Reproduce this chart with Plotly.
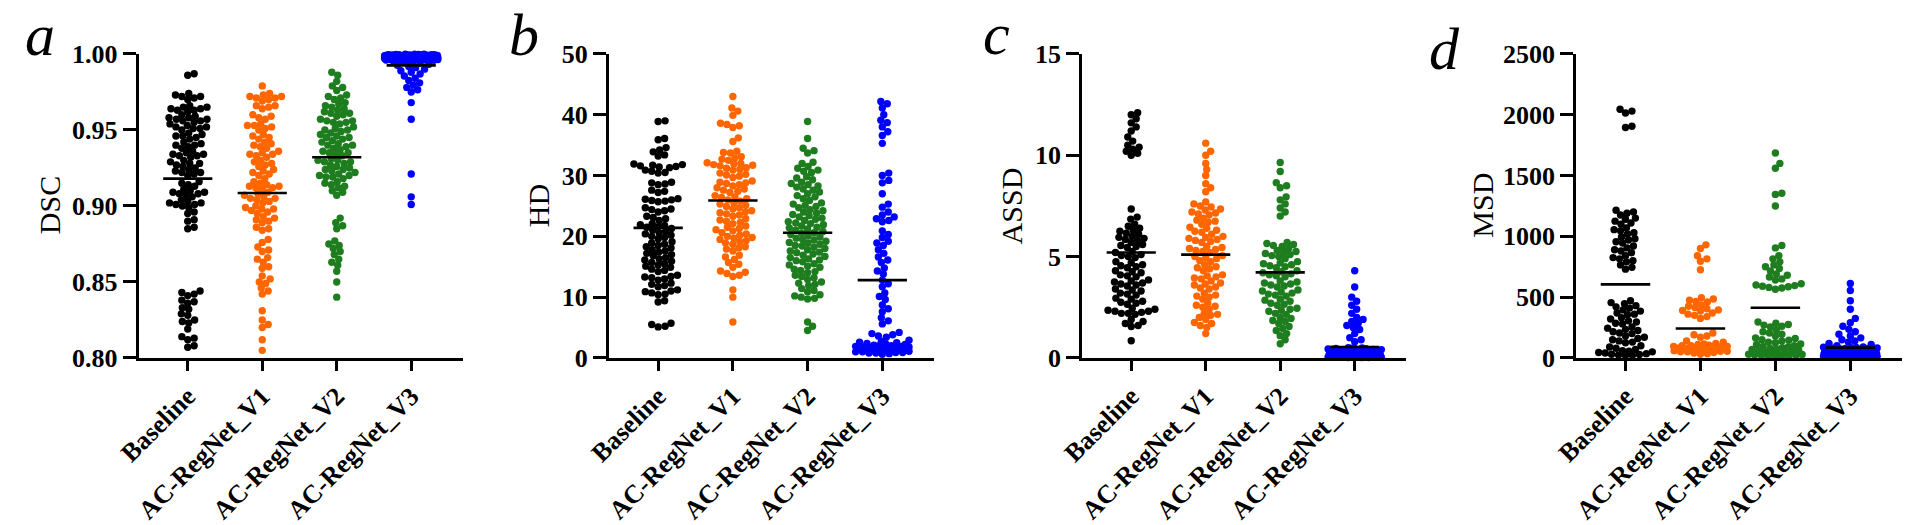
import numpy as np
import plotly.graph_objects as go

groups = ["Baseline", "AC-RegNet_V1", "AC-RegNet_V2", "AC-RegNet_V3"]
colors = ["#000000", "#FF6600", "#1E7D1E", "#0000FF"]

# ---- DSC (panel a) ----
dsc_baseline = [0.987, 0.986, 0.974, 0.973, 0.972, 0.971, 0.970, 0.972,
                0.966, 0.965, 0.964, 0.963, 0.965, 0.962, 0.964, 0.963,
                0.960, 0.959, 0.958, 0.957, 0.956, 0.958, 0.957, 0.956, 0.955,
                0.954, 0.953, 0.952, 0.951, 0.950, 0.952, 0.951,
                0.948, 0.947, 0.946, 0.945, 0.944, 0.946,
                0.942, 0.941, 0.940, 0.939, 0.938, 0.940,
                0.936, 0.935, 0.934, 0.933, 0.932, 0.934, 0.933,
                0.930, 0.929, 0.928, 0.927, 0.926, 0.925, 0.928,
                0.924, 0.923, 0.922, 0.921, 0.920, 0.922,
                0.916, 0.915, 0.914, 0.913,
                0.911, 0.910, 0.909, 0.908, 0.907, 0.906, 0.909, 0.908,
                0.904, 0.903, 0.902, 0.901, 0.900, 0.899, 0.902, 0.901,
                0.896, 0.895, 0.891, 0.890, 0.886, 0.885,
                0.844, 0.843, 0.842, 0.841, 0.838, 0.837, 0.836, 0.833, 0.832,
                0.829, 0.828, 0.825, 0.824, 0.823, 0.819, 0.814, 0.813, 0.812,
                0.808, 0.807]
dsc_v1 = [0.979, 0.974, 0.973, 0.972, 0.971, 0.970, 0.972, 0.971, 0.969,
          0.966, 0.965, 0.964, 0.966, 0.960, 0.958, 0.957, 0.959,
          0.954, 0.953, 0.952, 0.951, 0.953, 0.950, 0.947, 0.946, 0.945, 0.944,
          0.942, 0.941, 0.940, 0.939, 0.938, 0.936, 0.935, 0.934, 0.933, 0.932, 0.934,
          0.930, 0.929, 0.928, 0.927, 0.926, 0.924, 0.923, 0.922, 0.921, 0.920, 0.918,
          0.916, 0.915, 0.914, 0.913, 0.912, 0.911, 0.913, 0.912,
          0.909, 0.908, 0.907, 0.906, 0.905, 0.904, 0.903, 0.902, 0.905,
          0.900, 0.899, 0.898, 0.897, 0.896, 0.895, 0.898,
          0.893, 0.892, 0.891, 0.890, 0.889, 0.886, 0.885, 0.884,
          0.878, 0.876, 0.873, 0.871, 0.870, 0.866, 0.865, 0.863, 0.860, 0.859,
          0.854, 0.852, 0.850, 0.849, 0.846, 0.844, 0.842,
          0.831, 0.825, 0.822, 0.820, 0.812, 0.805]
dsc_v2 = [0.988, 0.986, 0.982, 0.979, 0.978, 0.976, 0.973, 0.972, 0.971, 0.970,
          0.968, 0.967, 0.966, 0.965, 0.964, 0.963, 0.962, 0.961, 0.960, 0.959, 0.961,
          0.957, 0.956, 0.955, 0.954, 0.956, 0.955, 0.952, 0.951, 0.950, 0.949, 0.948, 0.950,
          0.947, 0.946, 0.945, 0.944, 0.943, 0.945, 0.942, 0.941, 0.940, 0.939, 0.938, 0.940,
          0.937, 0.936, 0.935, 0.934, 0.933, 0.935, 0.931, 0.930, 0.929, 0.928, 0.927, 0.930, 0.929,
          0.926, 0.925, 0.924, 0.923, 0.922, 0.924, 0.921, 0.920, 0.919, 0.918, 0.920, 0.919,
          0.916, 0.915, 0.914, 0.913, 0.912, 0.910, 0.909, 0.907,
          0.892, 0.889, 0.887, 0.885, 0.877, 0.875, 0.874, 0.872, 0.870, 0.868,
          0.865, 0.863, 0.861, 0.857, 0.850, 0.840]
dsc_v3 = [0.9999, 0.9998, 0.9998, 0.9997, 0.9997, 0.9996, 0.9996, 0.9995, 0.9995, 0.9994,
          0.9994, 0.9993, 0.9993, 0.9992, 0.9992, 0.9991, 0.9991, 0.9990, 0.9990, 0.9989,
          0.9989, 0.9988, 0.9988, 0.9987, 0.9987, 0.9986, 0.9986, 0.9985, 0.9985, 0.9984,
          0.9984, 0.9983, 0.9983, 0.9982, 0.9982, 0.9981, 0.9981, 0.9980, 0.9980, 0.9979,
          0.9979, 0.9978, 0.9978, 0.9977, 0.9977, 0.9976, 0.9976, 0.9975, 0.9975, 0.9974,
          0.9974, 0.9973, 0.9973, 0.9972, 0.9972, 0.9971, 0.9971, 0.9970, 0.9970, 0.9969,
          0.9969, 0.9968, 0.9968, 0.9967, 0.9967, 0.9966, 0.9966, 0.9965, 0.9965, 0.9964,
          0.9964, 0.9963, 0.9963, 0.9962, 0.9962, 0.9961, 0.9961, 0.9960, 0.9960, 0.9959,
          0.9955, 0.9950, 0.9945, 0.9940, 0.9932, 0.9925, 0.9918, 0.9910, 0.9900, 0.9890,
          0.9880, 0.9868, 0.9855, 0.9840, 0.9825, 0.9810, 0.9795, 0.9780, 0.9765, 0.9750,
          0.968, 0.957, 0.921, 0.906, 0.901]

# ---- HD (panel b) ----
hd_baseline = [39.0, 38.9, 36.1, 35.9, 34.6, 34.2, 33.9, 33.4, 33.2,
               31.9, 31.8, 31.7, 31.6, 31.5, 31.4, 31.3, 30.9, 30.7, 30.5, 30.4,
               28.9, 28.8, 28.6, 28.5, 27.6, 27.4, 27.2, 26.2, 26.1, 26.0, 25.9, 25.8, 25.7,
               24.7, 24.5, 24.4, 24.2, 24.0, 23.3, 23.1, 22.9, 22.6,
               22.1, 21.9, 21.8, 21.6, 21.5, 21.3, 21.0, 20.8, 20.6, 20.4, 20.2, 20.0, 19.8, 19.6,
               19.1, 18.9, 18.7, 18.5, 18.3, 18.1, 17.8, 17.6, 17.4, 17.2, 17.0, 16.8,
               16.5, 16.3, 16.1, 15.9, 15.7, 15.5, 15.3, 15.1, 14.9, 14.6, 14.4, 14.2,
               13.6, 13.4, 13.3, 13.2, 13.0, 12.8, 12.3, 12.1, 11.9, 11.7,
               11.2, 11.0, 10.9, 10.7, 10.5, 10.4, 9.4, 9.2, 5.7, 5.5, 5.2, 5.1]
hd_v1 = [43.0, 41.1, 40.6, 39.9, 38.6, 38.4, 38.2, 37.9, 36.2, 35.6,
         34.0, 33.8, 33.7, 33.1, 32.9, 32.7, 32.5,
         32.1, 32.0, 31.9, 31.8, 31.7, 31.6, 31.3, 31.2, 31.0, 30.9,
         30.4, 30.2, 30.1, 29.9, 29.7, 29.1, 28.9, 28.8, 28.7, 28.5, 28.3,
         28.0, 27.8, 27.6, 27.4, 27.2, 26.7, 26.5, 26.4, 26.2, 26.0, 25.8,
         25.5, 25.3, 25.1, 24.9, 24.7, 24.5, 24.2, 24.0, 23.9, 23.7, 23.5, 23.3,
         22.9, 22.7, 22.5, 22.3, 22.1, 21.7, 21.5, 21.3, 21.1, 20.9,
         20.6, 20.4, 20.2, 20.0, 19.8, 19.7, 19.5, 19.3, 19.1, 18.9, 18.7,
         18.3, 18.1, 17.9, 17.6, 16.9, 16.6, 16.2, 15.7, 15.4, 14.9,
         14.3, 14.1, 13.9, 13.6, 13.4, 11.2, 10.0, 5.9]
hd_v2 = [38.9, 36.1, 34.5, 34.1, 33.7, 32.2, 32.0, 31.5, 31.2, 30.9, 30.7, 30.5,
         29.8, 29.6, 29.3, 28.9, 28.7, 28.5, 28.3, 28.1,
         27.8, 27.6, 27.3, 27.0, 26.7, 26.5, 26.2, 25.9,
         25.5, 25.3, 25.1, 24.9, 24.7, 24.4, 24.2, 24.0, 23.8, 23.6,
         23.4, 23.2, 23.0, 22.8, 22.6, 22.4, 22.2, 22.1, 21.9, 21.7, 21.5,
         21.4, 21.2, 21.0, 20.8, 20.6, 20.5, 20.3, 20.1, 19.9, 19.7, 19.5, 19.4,
         19.2, 19.0, 18.9, 18.7, 18.5, 18.4, 18.2, 18.0, 17.8, 17.6, 17.4, 17.3, 17.1,
         16.9, 16.7, 16.5, 16.3, 16.1, 16.0, 15.8, 15.5, 15.3, 15.1, 14.9,
         14.6, 14.4, 14.2, 14.0, 13.6, 13.4, 13.2, 12.9, 12.5, 12.3, 12.1, 11.9,
         11.4, 11.1, 10.9, 10.4, 10.2, 10.0, 9.8, 9.7, 5.9, 5.2, 4.5]
hd_v3 = [42.2, 41.8, 41.1, 40.0, 39.1, 38.7, 38.0, 37.2, 36.6, 35.3,
         30.4, 30.0, 29.2, 28.8, 27.0, 25.3, 24.8, 24.0, 23.5, 23.2, 22.9, 22.6, 22.4,
         20.9, 20.3, 19.8, 19.2, 18.9, 18.5, 17.8, 17.2, 16.6, 16.1, 15.7,
         14.8, 14.3, 13.8, 12.8, 12.2, 11.7, 10.7, 10.1, 9.6, 8.7, 8.1, 7.6,
         6.6, 6.1, 5.6, 4.2, 4.0, 3.8, 3.6, 3.4,
         2.9, 2.7, 2.6, 2.5, 2.4, 2.3, 2.2, 2.1, 2.0, 2.0, 1.9, 1.9, 1.8, 1.8,
         1.7, 1.7, 1.6, 1.6, 1.5, 1.5, 1.4, 1.4, 1.3, 1.3, 1.2, 1.2, 1.1, 1.1,
         1.0, 1.0, 0.9, 0.9, 0.8, 0.8, 0.7, 0.6]

# ---- ASSD (panel c) ----
assd_baseline = [12.1, 12.0, 11.8, 11.6, 11.4, 11.2, 10.9, 10.7, 10.5, 10.4, 10.3, 10.2, 10.1, 10.0,
                 7.35, 6.95, 6.85, 6.6, 6.5, 6.4, 6.3, 6.25, 6.15, 6.1, 6.0, 5.95, 5.9, 5.85, 5.8,
                 5.7, 5.6, 5.55, 5.5, 5.45, 5.25, 5.2, 5.1, 5.05, 5.0, 4.95,
                 4.75, 4.7, 4.6, 4.55, 4.5, 4.45, 4.3, 4.25, 4.2, 4.1, 4.05, 4.0,
                 3.85, 3.8, 3.75, 3.7, 3.65, 3.6, 3.55, 3.4, 3.35, 3.3, 3.2, 3.15, 3.1,
                 2.95, 2.9, 2.8, 2.75, 2.7, 2.65,
                 2.45, 2.4, 2.35, 2.3, 2.3, 2.25, 2.2, 2.2, 2.15,
                 1.9, 1.8, 1.7, 1.6, 1.55, 0.85]
assd_v1 = [10.6, 10.2, 10.0, 9.6, 9.3, 9.0, 8.6, 8.4, 8.2,
           7.7, 7.6, 7.5, 7.45, 7.35, 7.3, 7.2, 7.15, 7.1, 7.05,
           6.9, 6.8, 6.75, 6.7, 6.6, 6.45, 6.4, 6.3, 6.25, 6.2, 6.1,
           6.0, 5.95, 5.9, 5.85, 5.8, 5.75, 5.7, 5.5, 5.45, 5.4, 5.35, 5.3, 5.25, 5.2,
           5.05, 5.0, 4.95, 4.9, 4.8, 4.75, 4.6, 4.5, 4.45, 4.4, 4.3,
           4.1, 4.05, 4.0, 3.95, 3.9, 3.8, 3.7, 3.65, 3.6, 3.5, 3.45, 3.4,
           3.2, 3.1, 3.05, 3.0, 2.9, 2.7, 2.6, 2.55, 2.5, 2.4,
           2.2, 2.15, 2.1, 2.0, 1.9, 1.75, 1.7, 1.6, 1.5, 1.2]
assd_v2 = [9.65, 9.2, 8.65, 8.5, 8.4, 7.95, 7.8, 7.6, 7.4, 7.2, 7.0,
           5.7, 5.65, 5.6, 5.55, 5.5, 5.4, 5.3, 5.25, 5.2, 5.15, 5.1, 5.05, 5.0, 4.9,
           4.75, 4.7, 4.65, 4.6, 4.55, 4.5, 4.45, 4.3, 4.25, 4.2, 4.15, 4.1, 4.05, 4.0,
           3.8, 3.75, 3.7, 3.65, 3.6, 3.55, 3.5, 3.35, 3.3, 3.25, 3.2, 3.15, 3.1, 3.05,
           2.9, 2.85, 2.8, 2.7, 2.65, 2.6, 2.45, 2.4, 2.35, 2.3, 2.2, 2.15,
           2.0, 1.95, 1.85, 1.8, 1.7, 1.55, 1.45, 1.35, 1.2, 1.1, 0.9, 0.7]
assd_v3 = [4.3, 3.5, 3.0, 2.8, 2.6, 2.4, 2.2, 2.0, 1.9, 1.8, 1.7, 1.6, 1.5, 1.4, 1.2, 1.0, 0.9, 0.8,
           0.50, 0.49, 0.48, 0.47, 0.46, 0.45, 0.44, 0.43, 0.42, 0.41, 0.40, 0.39, 0.38, 0.37,
           0.36, 0.35, 0.34, 0.33, 0.32, 0.31, 0.30, 0.30, 0.29, 0.28, 0.27, 0.26, 0.25, 0.25,
           0.24, 0.23, 0.22, 0.21, 0.20, 0.20, 0.19, 0.18, 0.17, 0.16, 0.15, 0.15, 0.14, 0.13,
           0.12, 0.12, 0.11, 0.10, 0.10, 0.09, 0.09, 0.08, 0.08, 0.07, 0.07, 0.06, 0.06, 0.05,
           0.05, 0.05, 0.04, 0.04, 0.04, 0.03, 0.03, 0.03, 0.02, 0.02, 0.02, 0.02]

# ---- MSD (panel d) ----
msd_baseline = [2045, 2030, 2015, 1905, 1895, 1215, 1200, 1190, 1175,
                1150, 1140, 1125, 1110, 1100, 1070, 1055, 1045, 1030, 1020,
                995, 980, 970, 955, 945, 920, 905, 890, 880, 865,
                840, 825, 815, 800, 790, 765, 745, 730,
                470, 455, 445, 430, 420, 410, 395, 385, 370, 360, 355,
                330, 320, 305, 295, 285, 280, 255, 245, 235, 225, 215, 205, 200,
                180, 170, 160, 150, 140, 130, 125,
                100, 90, 80, 70, 60, 55, 50, 45, 40, 35, 30, 28, 25, 22, 20]
msd_v1 = [930, 900, 840, 815, 795, 725, 495, 485, 475, 465, 460,
          435, 425, 415, 405, 395, 390, 385, 370, 360, 350, 340, 325,
          205, 190, 180, 170, 140, 130, 120, 115, 110, 105, 100, 100, 95, 95,
          90, 90, 85, 85, 80, 80, 80, 75, 75, 70, 70, 65, 65, 60, 60, 55, 55,
          50, 50, 45, 40, 35, 30]
msd_v2 = [1685, 1600, 1560, 1355, 1345, 1250, 925, 905, 840, 815, 790,
          765, 750, 735, 715, 690, 680, 665, 650, 640,
          610, 600, 595, 590, 585, 580, 575, 565,
          295, 285, 275, 270, 260, 255, 230, 215, 205, 195, 180,
          165, 160, 150, 145, 140, 130, 125, 115,
          110, 100, 95, 90, 85, 80, 75, 70, 65, 60, 55, 50, 45, 40, 35, 30,
          28, 25, 22, 20, 18, 15, 12, 10]
msd_v3 = [612, 555, 470, 400, 325, 290, 260, 235, 215, 195, 180, 165, 150, 140, 130, 120, 110, 100,
          90, 88, 86, 84, 82, 80, 78, 76, 74, 72, 70, 68, 66, 64, 62, 60, 58, 56, 55, 54, 52, 50,
          49, 48, 46, 45, 44, 42, 40, 39, 38, 36, 35, 34, 32, 30, 29, 28, 26, 25, 24, 22,
          21, 20, 19, 18, 17, 16, 15, 14, 13, 12, 11, 10, 9, 8, 7, 6, 5, 5]

# group means
dsc_means = [0.918, 0.9085, 0.932, 0.9925]
hd_means = [21.4, 25.9, 20.6, 12.8]
assd_means = [5.2, 5.1, 4.22, 0.54]
msd_means = [605, 242, 413, 85]

W, H = 1906, 525
PLOT_TOP, PLOT_BOT = 43, 370
PX_PER_CAT = 75.5
XR = [-0.66, 3.69]

panels = [
    dict(label="DSC", data=[dsc_baseline, dsc_v1, dsc_v2, dsc_v3], means=dsc_means,
         yr=[0.80, 1.00], dtick=0.05, fmt=".2f", x0=117, x1=445, tx=27,
         letter="a", lx=0, ly=23),
    dict(label="HD", data=[hd_baseline, hd_v1, hd_v2, hd_v3], means=hd_means,
         yr=[0, 50], dtick=10, fmt="d", x0=593, x1=922, tx=522,
         letter="b", lx=490, ly=23),
    dict(label="ASSD", data=[assd_baseline, assd_v1, assd_v2, assd_v3], means=assd_means,
         yr=[0, 15], dtick=5, fmt="d", x0=1072, x1=1400, tx=1001,
         letter="c", lx=970, ly=21),
    dict(label="MSD", data=[msd_baseline, msd_v1, msd_v2, msd_v3], means=msd_means,
         yr=[0, 2500], dtick=500, fmt="d", x0=1572, x1=1902, tx=1477,
         letter="d", lx=1421, ly=38),
]


def swarm_offsets(vals, px_per_unit, diam=6.6, cap=27):
    ys = np.asarray(vals, float) * px_per_unit
    order = np.argsort(ys, kind="stable")
    cand = [0.0]
    for k in np.arange(0.5, cap + 0.01, 0.5):
        cand += [k, -k]
    cand = np.array(cand)
    px, py = [], []
    out = np.zeros(len(ys))
    for i in order:
        y = ys[i]
        dx = 0.0
        if px:
            ax, ay = np.array(px), np.array(py)
            near = np.abs(ay - y) < diam
            if near.any():
                d = np.sqrt((cand[:, None] - ax[near][None, :]) ** 2
                            + (y - ay[near])[None, :] ** 2).min(axis=1)
                free = np.nonzero(d >= diam)[0]
                dx = cand[free[0]] if len(free) else cand[int(np.argmax(d))]
        out[i] = dx
        px.append(dx)
        py.append(y)
    return out


fig = go.Figure()
serif = "Liberation Serif"
y_dom = [(H - PLOT_BOT) / H, (H - PLOT_TOP) / H]

for k, p in enumerate(panels, start=1):
    xa, ya = f"x{k}", f"y{k}"
    ppu = (PLOT_BOT - PLOT_TOP) / (p["yr"][1] - p["yr"][0])
    for i, (vals, col) in enumerate(zip(p["data"], colors)):
        offs = swarm_offsets(vals, ppu)
        fig.add_trace(go.Scatter(x=i + offs / PX_PER_CAT, y=vals, mode="markers",
                                 marker=dict(size=7.4, color=col, line_width=0),
                                 cliponaxis=False, xaxis=xa, yaxis=ya, hoverinfo="y"))
    for i, m in enumerate(p["means"]):
        fig.add_trace(go.Scatter(x=[i - 0.33, i + 0.33], y=[m, m], mode="lines",
                                 line=dict(color="black", width=2.6),
                                 cliponaxis=False, xaxis=xa, yaxis=ya, hoverinfo="skip"))

    tickvals = list(np.arange(p["yr"][0], p["yr"][1] + p["dtick"] / 2, p["dtick"]))
    ticktext = [format(v, ".2f") if p["fmt"] == ".2f" else str(int(round(v))) for v in tickvals]
    fig.layout[f"xaxis{k}"] = dict(
        domain=[p["x0"] / W, p["x1"] / W], anchor=ya, range=XR,
        tickvals=[0, 1, 2, 3], ticktext=groups, tickangle=-45,
        tickfont=dict(family=serif, size=26, color="black", weight="bold"),
        showline=True, linecolor="black", linewidth=2.6,
        ticks="outside", ticklen=10, tickwidth=2.6, tickcolor="black",
        showgrid=False, zeroline=False, fixedrange=True)
    fig.layout[f"yaxis{k}"] = dict(
        domain=y_dom, anchor=xa, range=p["yr"],
        tickvals=tickvals, ticktext=ticktext,
        tickfont=dict(family=serif, size=26, color="black", weight="bold"),
        showline=True, linecolor="black", linewidth=2.6,
        ticks="outside", ticklen=13, tickwidth=2.6, tickcolor="black",
        showgrid=False, zeroline=False, fixedrange=True)

    fig.add_annotation(text=p["label"], x=p["tx"] / W, y=(H - 206) / H,
                       xref="paper", yref="paper", textangle=-90, showarrow=False,
                       xanchor="center", yanchor="middle",
                       font=dict(family=serif, size=30, color="black"))
    fig.add_annotation(text=p["letter"], x=p["lx"] / W, y=(H - p["ly"]) / H,
                       xref="paper", yref="paper", showarrow=False,
                       xanchor="left", yanchor="middle",
                       font=dict(family=serif, size=60, color="black", style="italic"))

fig.update_layout(width=W, height=H, margin=dict(l=0, r=0, t=0, b=0),
                  paper_bgcolor="white", plot_bgcolor="white", showlegend=False)

# the page body has a default 8px margin; remove it so the figure sits at the origin
fig.write_html("out.html", config={"displayModeBar": False},
               post_script="document.body.style.margin='0px';")
